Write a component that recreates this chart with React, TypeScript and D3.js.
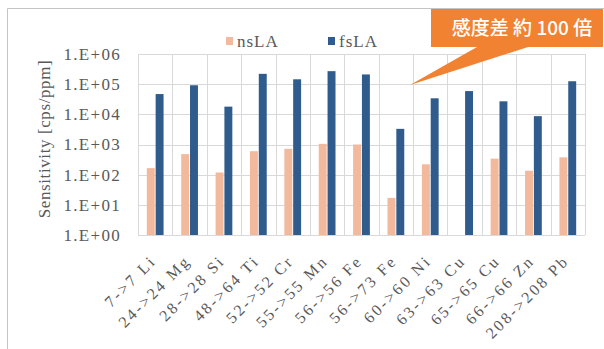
import React, { useRef, useEffect } from 'react';
import * as d3 from 'd3';

const categories = ['7->7 Li', '24->24 Mg', '28->28 Si', '48->64 Ti', '52->52 Cr', '55->55 Mn', '56->56 Fe',
  '56->73 Fe', '60->60 Ni', '63->63 Cu', '65->65 Cu', '66->66 Zn', '208->208 Pb'];
const nsLA: (number | null)[] = [165, 480, 118, 600, 720, 1050, 1000, 17, 220, null, 340, 135, 375];
const fsLA: number[] = [47000, 92000, 18000, 220000, 145000, 270000, 210000, 3300, 34000, 59000, 27000, 8700, 125000];
const seriesNames = ['nsLA', 'fsLA'];
const tickValues = [1, 10, 100, 1000, 10000, 100000, 1000000];
const tickLabels = ['1.E+00', '1.E+01', '1.E+02', '1.E+03', '1.E+04', '1.E+05', '1.E+06'];
const note = '感度差 約 100 倍';

const App = () => {
  const svgRef = useRef<SVGSVGElement>(null);

  useEffect(() => {
    d3.select(svgRef.current).selectAll('*').remove();

    const w = 604;
    const h = 349;
    const svg = d3.select(svgRef.current).attr('width', w).attr('height', h);
    const serif = 'Liberation Serif, Times New Roman, Times, DejaVu Serif, serif';
    const colors = ['#f3b99c', '#2f5c8c'];
    const grid = '#d9d9d9';
    const textColor = '#595959';

    const left = 138, right = 585, top = 54, bottom = 235;

    // outer frame
    svg.append('path')
      .attr('d', `M7.5,${h} V8.5 H${w}`)
      .attr('fill', 'none')
      .attr('stroke', '#c4c4c4');

    const x = d3.scaleBand().domain(categories).range([left, right]).padding(0);
    const xs = d3.scaleBand().domain(seriesNames).range([0, x.bandwidth()]).paddingInner(0.1).paddingOuter(1);
    const y = d3.scaleLog().domain([1, 1e6]).range([bottom, top]);

    // gridlines
    svg.append('g').selectAll('line')
      .data(tickValues)
      .join('line')
      .attr('x1', left).attr('x2', right)
      .attr('y1', d => Math.round(y(d)) + 0.5).attr('y2', d => Math.round(y(d)) + 0.5)
      .attr('stroke', grid);

    svg.append('g').selectAll('line')
      .data([...categories.map(c => x(c)!), right])
      .join('line')
      .attr('x1', d => Math.round(d) + 0.5).attr('x2', d => Math.round(d) + 0.5)
      .attr('y1', top).attr('y2', bottom)
      .attr('stroke', grid);

    // bars
    const series = [nsLA, fsLA];
    series.forEach((vals, si) => {
      svg.append('g').selectAll('rect')
        .data(vals.map((v, i) => ({ v, c: categories[i] })).filter(d => d.v != null))
        .join('rect')
        .attr('x', d => x(d.c)! + xs(seriesNames[si])!)
        .attr('width', xs.bandwidth())
        .attr('y', d => y(d.v as number))
        .attr('height', d => bottom - y(d.v as number))
        .attr('fill', colors[si]);
    });

    // y tick labels
    svg.append('g').selectAll('text')
      .data(tickValues)
      .join('text')
      .attr('x', 121)
      .attr('y', d => y(d))
      .attr('dy', '0.35em')
      .attr('text-anchor', 'end')
      .attr('font-family', serif)
      .attr('font-size', 17)
      .attr('letter-spacing', 1.3)
      .attr('fill', textColor)
      .text((d, i) => tickLabels[i]);

    // y title
    svg.append('text')
      .attr('transform', `translate(50,139) rotate(-90)`)
      .attr('text-anchor', 'middle')
      .attr('font-family', serif)
      .attr('font-size', 17)
      .attr('letter-spacing', 0.6)
      .attr('fill', textColor)
      .text('Sensitivity [cps/ppm]');

    // x labels
    svg.append('g').selectAll('text')
      .data(categories)
      .join('text')
      .attr('transform', d => `translate(${x(d)! + x.bandwidth() / 2 + 2},262) rotate(-45)`)
      .attr('text-anchor', 'end')
      .attr('font-family', serif)
      .attr('font-size', 16)
      .attr('letter-spacing', 2.4)
      .attr('fill', textColor)
      .text(d => d);

    // legend
    const legendX = [226, 328];
    seriesNames.forEach((name, i) => {
      svg.append('rect')
        .attr('x', legendX[i]).attr('y', 37)
        .attr('width', 7).attr('height', 8)
        .attr('fill', colors[i]);
      svg.append('text')
        .attr('x', legendX[i] + 11).attr('y', 46.5)
        .attr('font-family', serif)
        .attr('font-size', 17)
        .attr('letter-spacing', 1)
        .attr('fill', textColor)
        .text(name);
    });

    // callout
    const orange = '#f08231';
    svg.append('path')
      .attr('d', 'M431,9 H603 V47 H528 L410,85 L477,47 H431 Z')
      .attr('fill', orange);
    svg.append('text')
      .attr('x', 522).attr('y', 35)
      .attr('text-anchor', 'middle')
      .attr('font-family', 'Noto Sans CJK JP, Noto Sans, sans-serif')
      .attr('font-size', 19)
      .attr('font-weight', 500)
      .attr('fill', '#ffffff')
      .text(note);
  }, []);

  return <svg ref={svgRef} style={{ position: 'absolute', left: 0, top: 0 }}></svg>;
};

export default App;
